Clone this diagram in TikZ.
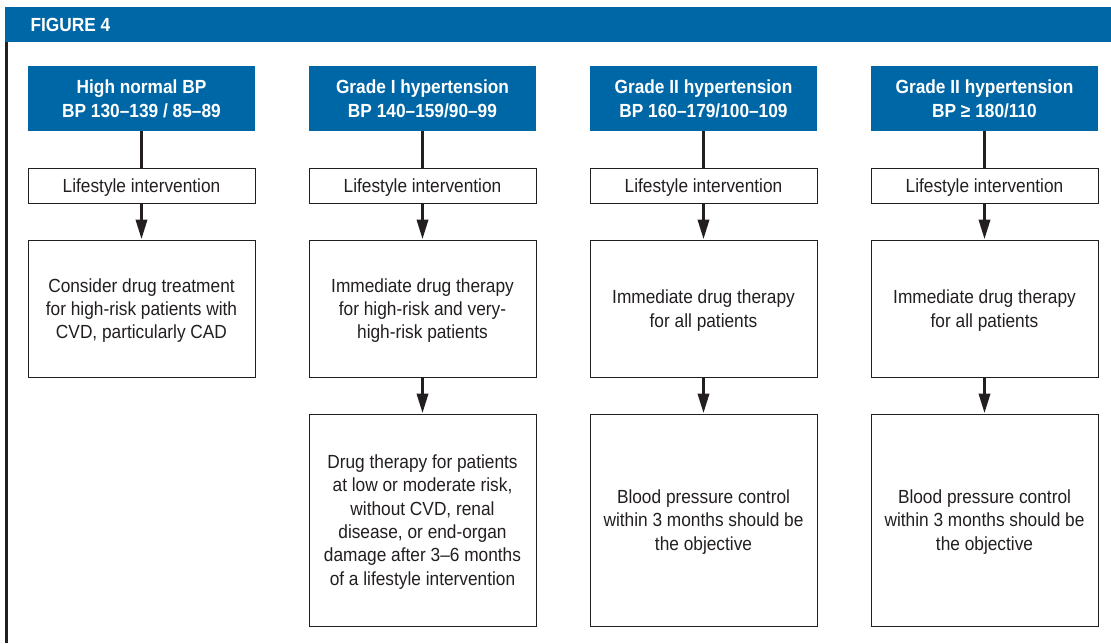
\documentclass[tikz,border=0pt]{standalone}
\usepackage{fontspec}
\setmainfont{Liberation Sans}[FakeStretch=0.91]
\usetikzlibrary{arrows.meta}
\definecolor{figblue}{RGB}{0,103,166}
\definecolor{ink}{RGB}{35,31,32}

\begin{document}
\begin{tikzpicture}[x=1pt,y=-1pt,
    gradebox/.style={fill=figblue,text=white,font=\fontsize{19}{24}\selectfont\bfseries,
        minimum width=227pt,minimum height=65pt,inner sep=0pt,align=center},
    lifebox/.style={draw=ink,line width=1pt,fill=white,text=ink,font=\fontsize{19}{23.3}\selectfont,
        minimum width=227pt,minimum height=35pt,inner sep=0pt,text depth=0pt,align=center},
    stem/.style={ink,line width=3.5pt},
    flow/.style={stem,-{Triangle[width=11pt,length=20pt]}}]
        \useasboundingbox (0,0) rectangle (1111,643);
        % frame and title bar
        \fill[figblue] (5,7) rectangle (1111,42);
        \node[anchor=west,text=white,font=\fontsize{19}{20}\selectfont\bfseries] (fig) at (27,25) {FIGURE 4};
        \draw[ink,line width=3pt] (6.5,42) -- (6.5,643);
        % grade boxes
        \node[gradebox] (g1) at (141.5,98.5) {High normal BP\\BP 130--139 / 85--89};
        \node[gradebox] (g2) at (422.5,98.5) {Grade I hypertension\\BP 140--159/90--99};
        \node[gradebox] (g3) at (703.5,98.5) {Grade II hypertension\\BP 160--179/100--109};
        \node[gradebox] (g4) at (984.5,98.5) {Grade II hypertension\\BP ≥ 180/110};
        % lifestyle
        \foreach \i/\x in {1/141.5,2/422.5,3/703.5,4/984.5}{
            \node[lifebox] (l\i) at (\x,185.5) {Lifestyle intervention};
            };
        % drug therapy
        \node[lifebox,minimum height=137pt] (d1) at (141.5,308.5)
            {Consider drug treatment\\for high-risk patients with\\CVD, particularly CAD};
        \node[lifebox,minimum height=137pt] (d2) at (422.5,308.5)
            {Immediate drug therapy\\for high-risk and very-\\high-risk patients};
        \node[lifebox,minimum height=137pt] (d3) at (703.5,308.5)
            {Immediate drug therapy\\for all patients};
        \node[lifebox,minimum height=137pt] (d4) at (984.5,308.5)
            {Immediate drug therapy\\for all patients};
        % follow-up
        \node[lifebox,minimum height=212pt] (c2) at (422.5,520)
            {Drug therapy for patients\\at low or moderate risk,\\without CVD, renal\\disease, or end-organ\\damage after 3--6 months\\of a lifestyle intervention};
        \node[lifebox,minimum height=212pt] (c3) at (703.5,520)
            {Blood pressure control\\within 3 months should be\\the objective};
        \node[lifebox,minimum height=212pt] (c4) at (984.5,520)
            {Blood pressure control\\within 3 months should be\\the objective};
        % connectors
        \foreach \i in {1,...,4}{
            \draw[stem] (g\i) -- (l\i);
            \draw[flow] (l\i) -- (d\i);
            };
        \foreach \i in {2,3,4}{
            \draw[flow] (d\i) -- (c\i);
            };
\end{tikzpicture}
\end{document}
